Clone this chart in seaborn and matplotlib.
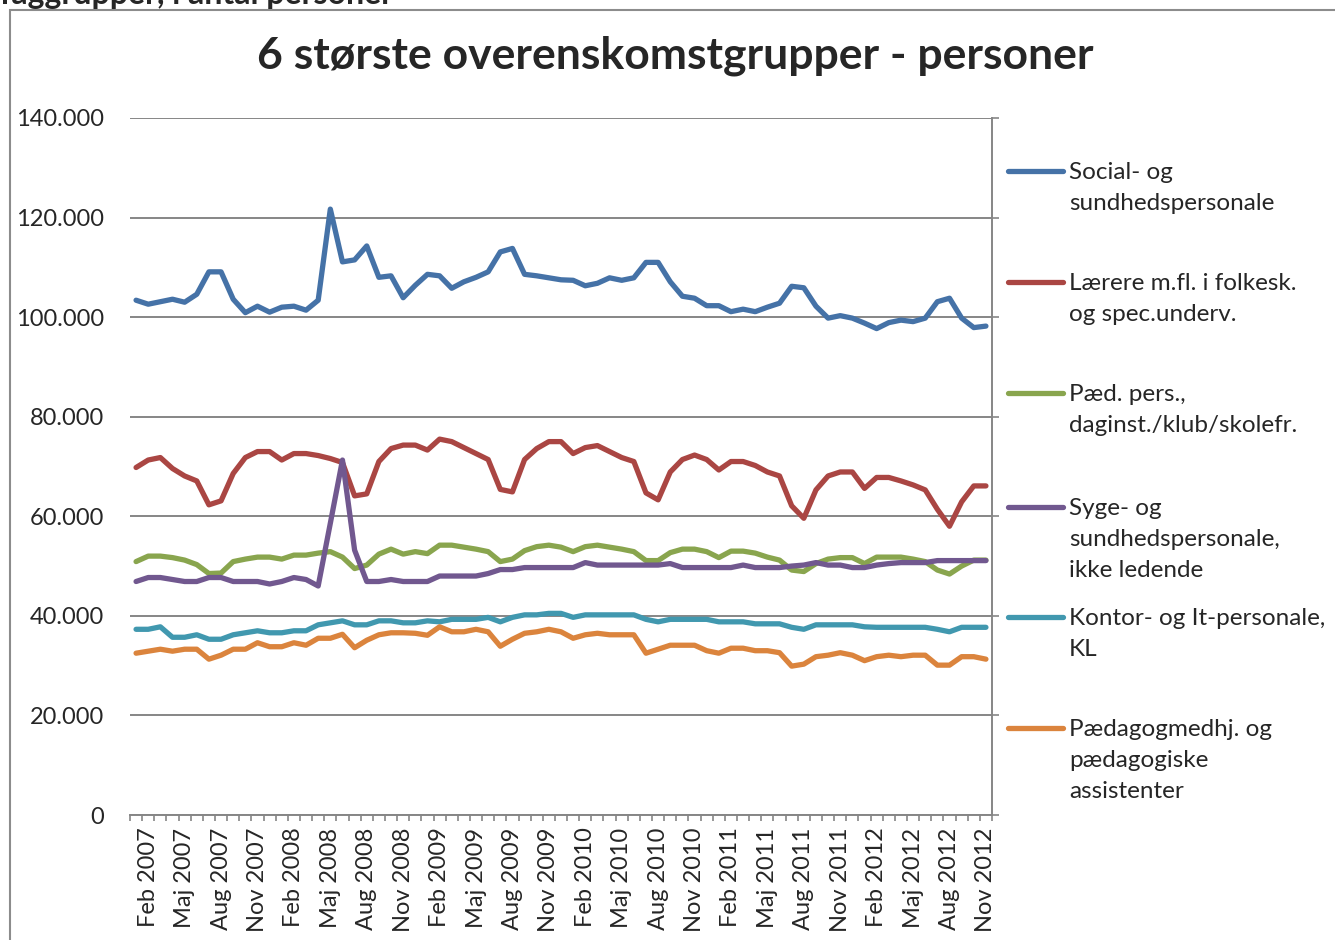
import matplotlib
matplotlib.use('Agg')
import matplotlib.pyplot as plt
import pandas as pd
import seaborn as sns
from matplotlib.patches import Rectangle
from matplotlib.ticker import FixedLocator

sns.set_style('white')
plt.rcParams['font.family'] = ['Lato', 'DejaVu Sans']

W, H = 1335, 940

MND = ['Jan', 'Feb', 'Mar', 'Apr', 'Maj', 'Jun', 'Jul', 'Aug', 'Sep', 'Okt', 'Nov', 'Dec']
maaneder = [f'{m} {aar}' for aar in range(2007, 2013) for m in MND][:71]
tick_labels = maaneder[1::3]

grupper = [
    'Social- og\nsundhedspersonale',
    'Lærere m.fl. i folkesk.\nog spec.underv.',
    'Pæd. pers.,\ndaginst./klub/skolefr.',
    'Syge- og\nsundhedspersonale,\nikke ledende',
    'Kontor- og It-personale,\nKL',
    'Pædagogmedhj. og\npædagogiske\nassistenter',
]
farver = ['#4572A7', '#AA4643', '#89A54E', '#71588F', '#4198AF', '#DB843D']

# antal personer i 1000
social = [103.4, 102.6, 103.1, 103.6, 103.0, 104.6, 109.1, 109.1, 103.6, 100.9,
          102.2, 101.0, 102.0, 102.2, 101.4, 103.4, 121.7, 111.1, 111.5, 114.3,
          108.0, 108.3, 103.9, 106.4, 108.6, 108.3, 105.8, 107.1, 108.0, 109.1,
          113.1, 113.8, 108.6, 108.3, 107.9, 107.5, 107.4, 106.3, 106.8, 107.9,
          107.4, 107.9, 111.0, 111.0, 107.1, 104.2, 103.8, 102.3, 102.3, 101.1,
          101.6, 101.1, 102.0, 102.8, 106.2, 105.9, 102.2, 99.8, 100.3, 99.8,
          98.8, 97.7, 98.9, 99.4, 99.1, 99.8, 103.1, 103.8, 99.8, 97.9, 98.2]
laerere = [69.8, 71.3, 71.8, 69.6, 68.1, 67.1, 62.3, 63.1, 68.6, 71.8,
           73.0, 73.0, 71.3, 72.6, 72.6, 72.2, 71.6, 70.8, 64.1, 64.5,
           71.0, 73.6, 74.3, 74.3, 73.3, 75.5, 75.0, 73.8, 72.6, 71.4,
           65.4, 64.9, 71.4, 73.6, 75.0, 75.0, 72.6, 73.8, 74.2, 73.0,
           71.8, 71.0, 64.7, 63.3, 68.9, 71.4, 72.3, 71.4, 69.3, 71.0,
           71.0, 70.2, 68.9, 68.1, 62.1, 59.6, 65.3, 68.1, 68.9, 68.9,
           65.6, 67.8, 67.8, 67.1, 66.3, 65.3, 61.4, 58.0, 62.9, 66.1, 66.1]
paed = [50.9, 52.0, 52.0, 51.7, 51.2, 50.3, 48.5, 48.6, 50.9, 51.4,
        51.8, 51.8, 51.4, 52.2, 52.2, 52.6, 52.9, 51.8, 49.5, 50.2,
        52.4, 53.4, 52.4, 52.9, 52.5, 54.2, 54.2, 53.8, 53.4, 52.9,
        50.9, 51.4, 53.1, 53.9, 54.2, 53.8, 52.9, 53.9, 54.2, 53.8,
        53.4, 52.9, 51.1, 51.1, 52.7, 53.4, 53.4, 52.9, 51.7, 53.0,
        53.0, 52.6, 51.8, 51.2, 49.2, 48.9, 50.5, 51.4, 51.7, 51.7,
        50.5, 51.8, 51.8, 51.8, 51.4, 50.9, 49.2, 48.4, 50.0, 51.2, 51.2]
syge = [46.9, 47.7, 47.7, 47.3, 46.9, 46.9, 47.7, 47.7, 46.9, 46.9,
        46.9, 46.4, 46.9, 47.7, 47.3, 46.0, 58.6, 71.3, 53.2, 46.9,
        46.9, 47.3, 46.9, 46.9, 46.9, 48.0, 48.0, 48.0, 48.0, 48.5,
        49.3, 49.3, 49.7, 49.7, 49.7, 49.7, 49.7, 50.7, 50.2, 50.2,
        50.2, 50.2, 50.2, 50.2, 50.5, 49.7, 49.7, 49.7, 49.7, 49.7,
        50.2, 49.7, 49.7, 49.7, 50.0, 50.2, 50.7, 50.2, 50.2, 49.7,
        49.7, 50.2, 50.5, 50.7, 50.7, 50.7, 51.1, 51.1, 51.1, 51.1, 51.1]
kontor = [37.3, 37.3, 37.8, 35.7, 35.7, 36.2, 35.3, 35.3, 36.2, 36.6,
          37.0, 36.6, 36.6, 37.0, 37.0, 38.2, 38.6, 39.0, 38.2, 38.2,
          39.0, 39.0, 38.6, 38.6, 39.0, 38.8, 39.3, 39.3, 39.3, 39.7,
          38.8, 39.7, 40.2, 40.2, 40.5, 40.5, 39.7, 40.2, 40.2, 40.2,
          40.2, 40.2, 39.3, 38.8, 39.3, 39.3, 39.3, 39.3, 38.8, 38.8,
          38.8, 38.4, 38.4, 38.4, 37.7, 37.3, 38.2, 38.2, 38.2, 38.2,
          37.8, 37.7, 37.7, 37.7, 37.7, 37.7, 37.3, 36.8, 37.7, 37.7, 37.7]
medhj = [32.5, 32.9, 33.3, 32.9, 33.3, 33.3, 31.3, 32.1, 33.3, 33.3,
         34.6, 33.8, 33.8, 34.6, 34.1, 35.5, 35.5, 36.3, 33.6, 35.1,
         36.2, 36.6, 36.6, 36.5, 36.1, 37.8, 36.8, 36.8, 37.3, 36.8,
         33.9, 35.3, 36.5, 36.8, 37.3, 36.8, 35.5, 36.2, 36.5, 36.2,
         36.2, 36.2, 32.5, 33.3, 34.1, 34.1, 34.1, 33.0, 32.5, 33.5,
         33.5, 33.0, 33.0, 32.6, 29.9, 30.3, 31.8, 32.1, 32.6, 32.1,
         31.0, 31.8, 32.1, 31.8, 32.1, 32.1, 30.1, 30.1, 31.8, 31.8, 31.3]

serier = [social, laerere, paed, syge, kontor, medhj]
rows = []
for navn, vaerdier in zip(grupper, serier):
    for i, v in enumerate(vaerdier):
        rows.append({'idx': i, 'maaned': maaneder[i], 'gruppe': navn, 'antal': v * 1000})
df = pd.DataFrame(rows)

fig = plt.figure(figsize=(W / 100, H / 100), dpi=100)
ax = fig.add_axes([130 / W, 1 - 815 / H, (992 - 130) / W, (815 - 118) / H])

sns.lineplot(data=df, x='idx', y='antal', hue='gruppe', hue_order=grupper,
             palette=dict(zip(grupper, farver)), linewidth=3.8, legend=False,
             solid_joinstyle='round', solid_capstyle='round', ax=ax)

grey = '#868686'
ax.set_xlim(-0.5, 70.5)
ax.set_ylim(0, 140000)
ax.set_xlabel('')
ax.set_ylabel('')

ax.set_yticks(range(0, 140001, 20000))
ax.set_yticklabels([f'{v:,}'.replace(',', '.') for v in range(0, 140001, 20000)])
ax.yaxis.grid(True, color=grey, linewidth=1.4)
ax.set_axisbelow(True)
ax.tick_params(axis='y', left=False, right=True, labelleft=True, labelright=False,
               direction='out', length=5, width=1.2, color=grey, pad=13.5, labelsize=17)

ax.set_xticks(range(1, 71, 3))
ax.set_xticklabels(tick_labels, rotation=90)
ax.xaxis.set_minor_locator(FixedLocator([i - 0.5 for i in range(72)]))
ax.tick_params(axis='x', which='major', length=0, pad=9, labelsize=17)
ax.tick_params(axis='x', which='minor', bottom=True, direction='out', length=4.5, width=1.2, color=grey)

for side in ['left', 'top']:
    ax.spines[side].set_visible(False)
for side in ['right', 'bottom']:
    ax.spines[side].set_color(grey)
    ax.spines[side].set_linewidth(1.4)

# legend, en post pr. serie
leg_y = [170, 281, 392, 506, 616, 727]
for h, lab, y in zip(ax.get_lines(), grupper, leg_y):
    leg = fig.legend([h], [lab], loc='upper left', bbox_to_anchor=(1008 / W, 1 - (y - 8) / H),
                     frameon=False, borderpad=0, borderaxespad=0, fontsize=17.5,
                     handlelength=55 / 24.3, handletextpad=6 / 24.3)
    for t in leg.get_texts():
        t.set_linespacing(1.6)
    for col in leg._legend_handle_box.get_children():
        for item in col.get_children():
            item.align = 'top'

fig.text(675 / W, 1 - 69 / H, '6 største overenskomstgrupper - personer',
         ha='center', va='baseline', fontsize=32, fontweight='bold')
fig.text(0, 1 - 4 / H, 'faggrupper, i antal personer', ha='left', va='baseline',
         fontsize=23, fontweight='bold')
fig.add_artist(Rectangle((10 / W, -0.1), 1.2, 1.1 - 10 / H, transform=fig.transFigure,
                         fill=False, edgecolor='#8c8c8c', linewidth=1.5))

fig.savefig('out.png', dpi=100)
